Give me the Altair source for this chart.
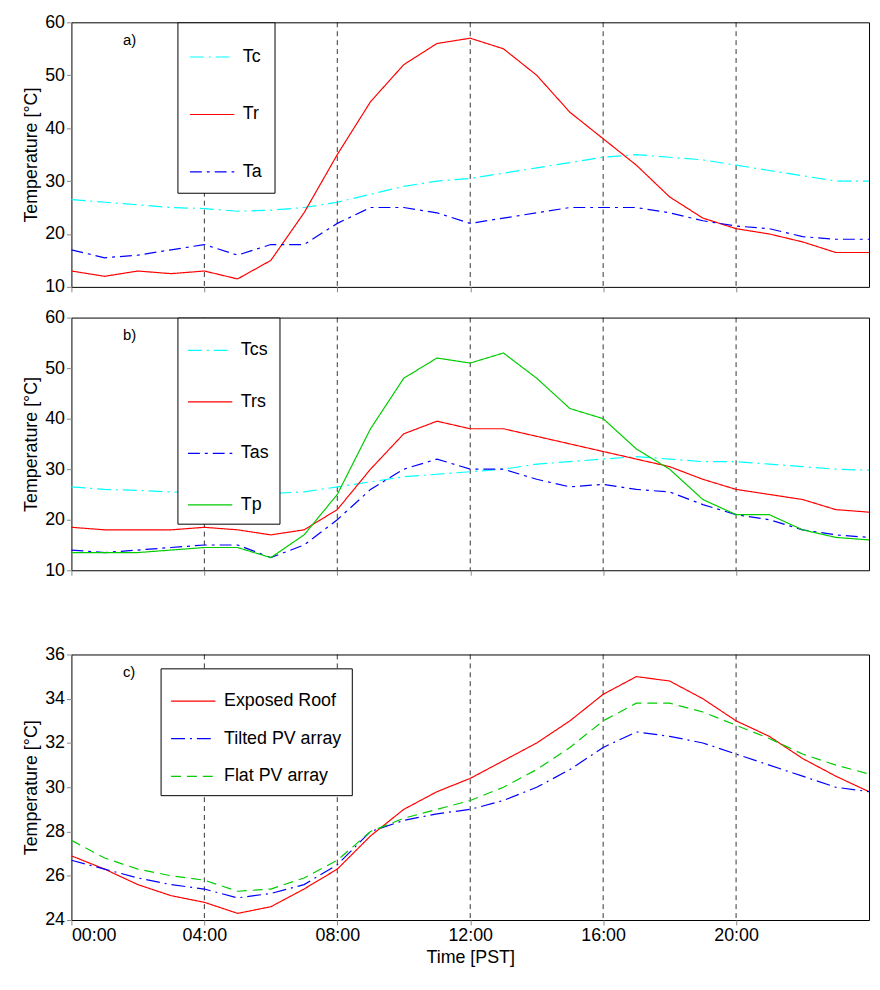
import altair as alt
import pandas as pd

hours = list(range(25))
Tc = [26.5,26,25.5,25,24.8,24.3,24.5,25,26,27.5,29,30,30.5,31.5,32.5,33.5,34.5,35,34.5,34,33,32,31,30,30]
Tr = [13,12,13,12.5,13,11.5,15,24,35,45,52,56,57,55,50,43,38,33,27,23,21,20,18.5,16.5,16.5]
Ta = [17,15.5,16,17,18,16,18,18,22,25,25,24,22,23,24,25,25,25,24,22.5,21.5,21,19.5,19,19]

Tcs = [26.5,26,25.8,25.5,25.3,25,25.2,25.5,26.5,27.5,28.5,29,29.5,30,31,31.5,32,32.5,32,31.5,31.5,31,30.5,30,29.8]
Trs = [18.5,18,18,18,18.5,18,17,18,22,30,37,39.5,38,38,36.5,35,33.5,32,30.5,28,26,25,24,22,21.5]
Tas = [14,13.5,14,14.5,15,15,12.5,15,20,26,30,32,30,30,28,26.5,27,26,25.5,23,21,20,18,17,16.5]
Tp = [13.5,13.5,13.5,14,14.5,14.5,12.5,17,25,38,48,52,51,53,48,42,40,34,30,24,21,21,18,16.5,16]

roof = [26.9,26.3,25.6,25.1,24.8,24.3,24.6,25.4,26.3,27.8,29.0,29.8,30.4,31.2,32.0,33.0,34.2,35.0,34.8,34.0,33.0,32.3,31.3,30.5,29.8]
tilted = [26.7,26.3,25.9,25.6,25.4,25.0,25.2,25.6,26.5,28.0,28.5,28.8,29.0,29.4,30.0,30.8,31.8,32.5,32.3,32.0,31.5,31.0,30.5,30.0,29.8]
flat = [27.6,26.8,26.3,26.0,25.8,25.3,25.4,25.9,26.7,28.0,28.6,29.0,29.4,30.0,30.8,31.8,33.0,33.8,33.8,33.4,32.8,32.2,31.5,31.0,30.6]

grid_hours = [4, 8, 12, 16, 20]
FONT = "Liberation Sans"
W = 805

def panel(series, names, colors, dashes, ydom, yticks, label, h, show_x, lg):
    rows = []
    for name, vals in zip(names, series):
        for hr, v in zip(hours, vals):
            rows.append({"h": hr, "v": v, "s": name})
    df = pd.DataFrame(rows)
    xax = alt.Axis(values=[0,4,8,12,16,20], grid=False, labels=show_x,
                   labelExpr="(datum.value<10?'0':'')+datum.value+':00'",
                   title="Time [PST]" if show_x else None, tickSize=5,
                   labelFontSize=18, titleFontSize=18, labelColor="black", titleColor="black",
                   domain=False, titleFontWeight="normal")
    x = alt.X("h:Q", scale=alt.Scale(domain=[0, 24]), axis=xax)
    yax = alt.Axis(values=yticks, grid=False, title="Temperature [°C]", tickSize=5,
                   labelFontSize=18, titleFontSize=18, labelColor="black", titleColor="black",
                   domain=False, titleFontWeight="normal")
    y = alt.Y("v:Q", scale=alt.Scale(domain=ydom, nice=False), axis=yax)
    leg = alt.Legend(title=None, orient="none", legendX=lg[0], legendY=lg[1],
                     strokeColor="black", fillColor="white", padding=lg[3],
                     labelFontSize=18, labelFont=FONT, symbolSize=lg[4],
                     symbolType="stroke", rowPadding=lg[2], labelColor="black",
                     symbolStrokeWidth=1.2, labelOffset=8)
    lines = alt.Chart(df).mark_line(strokeWidth=1.2).encode(
        x=x, y=y,
        color=alt.Color("s:N", scale=alt.Scale(domain=names, range=colors), legend=leg),
        strokeDash=alt.StrokeDash("s:N", scale=alt.Scale(domain=names, range=dashes), legend=None),
    )
    rules = alt.Chart(pd.DataFrame({"h": grid_hours})).mark_rule(
        color="black", strokeDash=[5, 4], strokeWidth=0.8).encode(x="h:Q")
    txt = alt.Chart(pd.DataFrame({"t": [label]})).mark_text(
        align="left", baseline="middle", fontSize=15, font=FONT).encode(
        text="t:N", x=alt.value(52), y=alt.value(18))
    return alt.layer(rules, lines, txt).properties(width=W, height=h)

solid = [1, 0]
a = panel([Tc, Tr, Ta], ["Tc", "Tr", "Ta"], ["#00ffff", "#ff0000", "#0000ff"],
          [[14, 5, 2, 5], solid, [12, 5, 3, 5]], [10, 60], [10,20,30,40,50,60], "a)", 267, False, [107, 0, 26, 12, 2000])
b = panel([Tcs, Trs, Tas, Tp], ["Tcs", "Trs", "Tas", "Tp"], ["#00ffff", "#ff0000", "#0000ff", "#00cc00"],
          [[14, 5, 2, 5], solid, [12, 5, 3, 5], solid], [10, 60], [10,20,30,40,50,60], "b)", 255, False, [107, 0, 20, 10, 2000])
c = panel([roof, tilted, flat], ["Exposed Roof", "Tilted PV array", "Flat PV array"], ["#ff0000", "#0000ff", "#00cc00"],
          [solid, [14, 5, 2, 5], [10, 6]], [24, 36], [24,26,28,30,32,34,36], "c)", 268, True, [90, 14, 6, 10, 2000])

chart = alt.vconcat(
    alt.vconcat(a, b, spacing=11).resolve_scale(color="independent", strokeDash="independent"),
    c, spacing=65
).resolve_scale(color="independent", strokeDash="independent").configure(
    font=FONT, padding={"left": 14, "top": 0, "right": 0, "bottom": 0}
).configure_view(stroke="black", strokeWidth=1)

chart.save("out.html", embed_options={"renderer": "svg", "actions": False})
